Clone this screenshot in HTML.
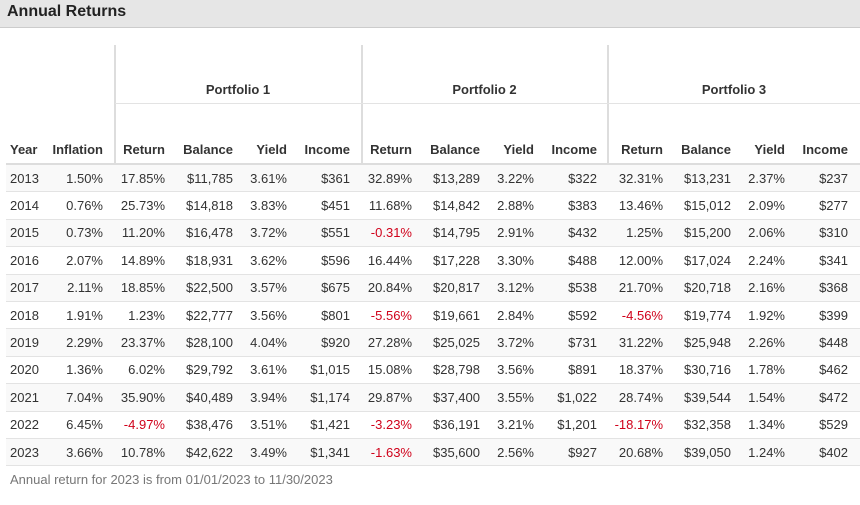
<!DOCTYPE html>
<html><head><meta charset="utf-8">
<style>
body{margin:0;width:860px;height:505px;overflow:hidden;background:#fff;font-family:"Liberation Sans",Arial,sans-serif;font-size:13px;color:#333;position:relative}
.title{position:absolute;left:0;top:0;width:860px;height:28px;background:#e6e6e6;border-bottom:1px solid #ccc;box-sizing:border-box}
.title span{position:absolute;left:7px;top:3px;font-size:16px;font-weight:bold;color:#222}
.c{position:absolute;white-space:nowrap;text-align:right;line-height:16px}
.h{font-weight:bold}
.vl{position:absolute;width:2px;background:#ddd}
.hl{position:absolute;height:1px;background:#e3e3e3}
.row{position:absolute;left:6px;width:854px;border-bottom:1px solid #e3e3e3;box-sizing:border-box}
.neg{color:#d0021b}
.note{position:absolute;left:10px;top:472px;color:#777}
</style></head><body>
<div class="title"><span>Annual Returns</span></div>
<div id="t"></div>
<div class="note">Annual return for 2023 is from 01/01/2023 to 11/30/2023</div>
<script>
const years=[2013,2014,2015,2016,2017,2018,2019,2020,2021,2022,2023];
const inflation=["1.50%","0.76%","0.73%","2.07%","2.11%","1.91%","2.29%","1.36%","7.04%","6.45%","3.66%"];
const p1Return=["17.85%","25.73%","11.20%","14.89%","18.85%","1.23%","23.37%","6.02%","35.90%","-4.97%","10.78%"];
const p1Balance=["$11,785","$14,818","$16,478","$18,931","$22,500","$22,777","$28,100","$29,792","$40,489","$38,476","$42,622"];
const p1Yield=["3.61%","3.83%","3.72%","3.62%","3.57%","3.56%","4.04%","3.61%","3.94%","3.51%","3.49%"];
const p1Income=["$361","$451","$551","$596","$675","$801","$920","$1,015","$1,174","$1,421","$1,341"];
const p2Return=["32.89%","11.68%","-0.31%","16.44%","20.84%","-5.56%","27.28%","15.08%","29.87%","-3.23%","-1.63%"];
const p2Balance=["$13,289","$14,842","$14,795","$17,228","$20,817","$19,661","$25,025","$28,798","$37,400","$36,191","$35,600"];
const p2Yield=["3.22%","2.88%","2.91%","3.30%","3.12%","2.84%","3.72%","3.56%","3.55%","3.21%","2.56%"];
const p2Income=["$322","$383","$432","$488","$538","$592","$731","$891","$1,022","$1,201","$927"];
const p3Return=["32.31%","13.46%","1.25%","12.00%","21.70%","-4.56%","31.22%","18.37%","28.74%","-18.17%","20.68%"];
const p3Balance=["$13,231","$15,012","$15,200","$17,024","$20,718","$19,774","$25,948","$30,716","$39,544","$32,358","$39,050"];
const p3Yield=["2.37%","2.09%","2.06%","2.24%","2.16%","1.92%","2.26%","1.78%","1.54%","1.34%","1.24%"];
const p3Income=["$237","$277","$310","$341","$368","$399","$448","$462","$472","$529","$402"];
const headers=["Inflation","Return","Balance","Yield","Income","Return","Balance","Yield","Income","Return","Balance","Yield","Income"];
const cols=[inflation,p1Return,p1Balance,p1Yield,p1Income,p2Return,p2Balance,p2Yield,p2Income,p3Return,p3Balance,p3Yield,p3Income];
const colNames=["inflation","p1-return","p1-balance","p1-yield","p1-income","p2-return","p2-balance","p2-yield","p2-income","p3-return","p3-balance","p3-yield","p3-income"];
const rights=[103,165,233,287,350,412,480,534,597,663,731,785,848];
const t=document.getElementById('t');
function add(cls,style,txt){const d=document.createElement('div');d.className=cls;d.style.cssText=style;if(txt!=null)d.textContent=txt;t.appendChild(d);return d;}
// grid lines
[[114],[361],[607]].forEach(([x])=>{const v=add('vl',`left:${x}px;top:45px;height:119px`);

});
const hl=add('hl',`left:115px;top:103px;width:745px`);


const hb=add('hl',`left:6px;top:163px;width:854px;height:2px;background:#ddd`);


// group headers
[["Portfolio 1",115,361],["Portfolio 2",362,607],["Portfolio 3",608,860]].forEach(([n,a,b],i)=>{
const g=add('c h',`left:${a}px;width:${b-a}px;text-align:center;top:82px`,n);

});
const yh=add('c h',`left:10px;top:142px;text-align:left`,"Year");


headers.forEach((h,i)=>{const e=add('c h',`right:${860-rights[i]}px;top:142px`,h);

});
const rowTop=165,rowH=27.4;
years.forEach((y,r)=>{
const top=rowTop+r*rowH;
const rw=add('row',`top:${top}px;height:${rowH}px;background:${r%2==0?'#f9f9f9':'#fff'}`);


const yc=add('c',`left:10px;top:${top+5.5}px;text-align:left`,String(y));


cols.forEach((col,i)=>{const v=col[r];const e=add('c'+(v.startsWith('-')?' neg':''),`right:${860-rights[i]}px;top:${top+5.5}px`,v);

});
});
</script>
</body></html>
